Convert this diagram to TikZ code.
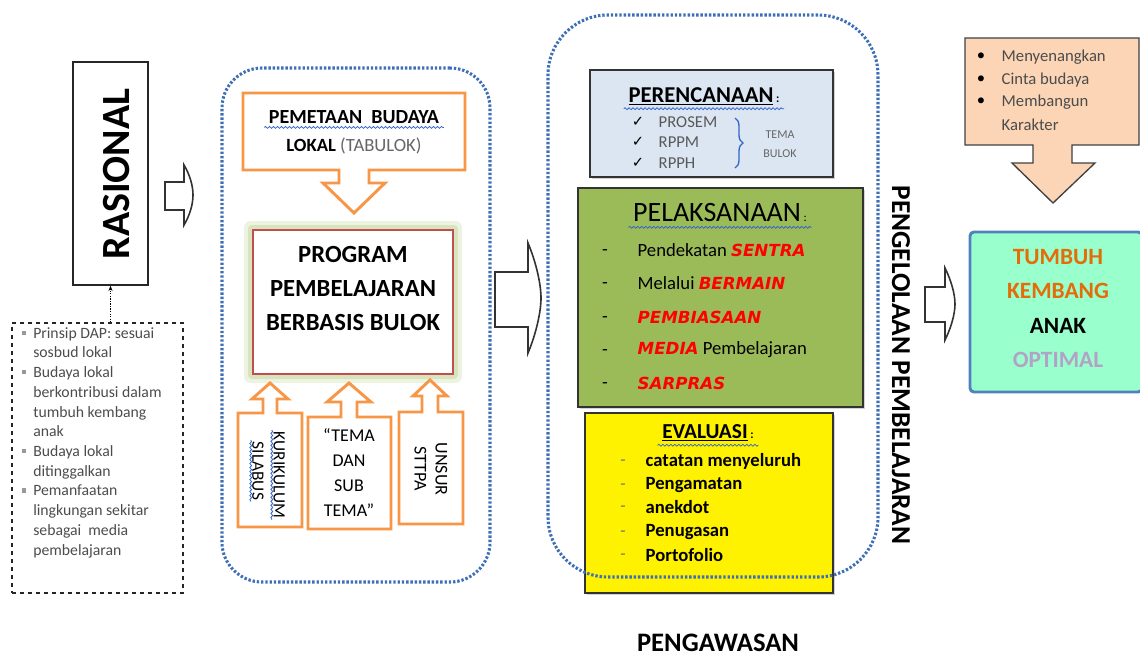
\documentclass[tikz,border=0pt]{standalone}
\usepackage{fontspec}
\setmainfont{Carlito}
\newfontfamily\symfont{DejaVu Sans}
\usetikzlibrary{fit,arrows.meta,shadows,decorations.pathmorphing,decorations.pathreplacing}

\definecolor{dotblue}{HTML}{3F6FB5}
\definecolor{boxorange}{HTML}{F79646}
\definecolor{progred}{HTML}{C0504D}
\definecolor{glowgreen}{HTML}{C3D69B}
\definecolor{planblue}{HTML}{DCE6F2}
\definecolor{pelgreen}{HTML}{9BBB59}
\definecolor{peach}{HTML}{FBD5B5}
\definecolor{mint}{HTML}{99FFCC}
\definecolor{resultblue}{HTML}{4F81BD}
\definecolor{tumbuhorange}{HTML}{E46C0A}
\definecolor{lavender}{HTML}{B3A2C7}
\definecolor{wordred}{HTML}{FF0000}
\definecolor{wavyblue}{HTML}{3366CC}

\newcommand{\sqb}{\makebox[8.25pt][l]{\color{black!40}\rule[0.22em]{0.26em}{0.26em}}}
\newcommand{\ind}{\hspace*{8.25pt}}
\newcommand{\redw}[1]{{\symfont\bfseries\itshape\fontsize{12.5}{12.5}\selectfont\color{wordred}#1}}

\tikzset{
  dotbox/.style={draw=dotblue, line width=2.3pt, dash pattern=on 1.8pt off 1.4pt, inner sep=0pt},
  orangebox/.style={draw=boxorange, line width=2.2pt, fill=white},
  hollowarrow/.style={draw=black!80, line width=1.2pt, fill=white},
  wavy/.style={draw=wavyblue, line width=0.6pt, decorate, decoration={snake, amplitude=0.7pt, segment length=3pt}},
  colbox/.style={draw=black!80, line width=1pt, inner sep=0pt, drop shadow={shadow xshift=1.2pt, shadow yshift=-1.2pt, opacity=0.35}},
}

\begin{document}
\begin{tikzpicture}[x=0.75pt, y=-0.75pt]
\useasboundingbox (0,0) rectangle (1140,657);

% rasional and its reasons
\node[draw=black!85, line width=1pt, fit={(73,62) (148,285)}, inner sep=0pt] (rasional) {};
\node[rotate=90, font=\bfseries\fontsize{30}{30}\selectfont] (rasionaltext) at (117,174) {RASIONAL};
\node[draw=black!85, line width=1pt, dashed, fit={(12,323) (183,593)}, inner sep=0pt] (dap) {};
\node[anchor=north west, inner sep=0pt, align=left, text=black!70, font=\fontsize{11.8}{14.8}\selectfont] (dapitems) at (22,327)
  {\sqb Prinsip DAP: sesuai\\ \ind sosbud lokal\\ \sqb Budaya lokal\\ \ind berkontribusi dalam\\ \ind tumbuh kembang\\ \ind anak\\
   \sqb Budaya lokal\\ \ind ditinggalkan\\ \sqb Pemanfaatan\\ \ind lingkungan sekitar\\ \ind sebagai\ \ media\\ \ind pembelajaran};
\draw[densely dotted, line width=0.9pt, -{Stealth[length=4pt]}] (dap.north -| rasional.south) -- (rasional.south);

% first block arrow
\draw[hollowarrow] (165,182) -- (184,182) -- (184,165) .. controls (190,175) and (193,186) .. (193,195) .. controls (193,204) and (190,215) .. (184,225) -- (184,210) -- (165,210) -- cycle;

% program group
\node[dotbox, rounded corners=30pt, fit={(222,68) (490,582)}] (bulok) {};
\draw[orangebox] (243,93) -- (465,93) -- (465,170) -- (369,170) -- (369,183) -- (385,183) -- (354,213) -- (323,183) -- (339,183) -- (339,170) -- (243,170) -- cycle;
\node[font=\bfseries\fontsize{15}{15}\selectfont] (pemetaan) at (354,117) {PEMETAAN\ \ BUDAYA};
\draw[wavy] ([yshift=-3pt]pemetaan.base west) -- ([yshift=-3pt]pemetaan.base east);
\node[font=\fontsize{14}{14}\selectfont] (lokal) at (354,146) {\textbf{LOKAL} {\color{black!60}(TABULOK)}};

\fill[glowgreen, opacity=0.3, rounded corners=5pt] (244,221) rectangle (462,383);
\fill[glowgreen, opacity=0.5, rounded corners=3pt] (248,225) rectangle (458,379);
\node[draw=progred, line width=2pt, fill=white, fit={(253,230) (453,374)}, inner sep=0pt] (program) {};
\node[align=center, font=\bfseries\fontsize{18.5}{25.5}\selectfont] (programtext) at (353,288) {PROGRAM\\PEMBELAJARAN\\BERBASIS BULOK};

\draw[orangebox] (238,413) -- (263,413) -- (263,399) -- (252,399) -- (270,383) -- (288,399) -- (277,399) -- (277,413) -- (302,413) -- (302,527) -- (238,527) -- cycle;
\draw[orangebox] (308,417) -- (341,417) -- (341,402) -- (327,402) -- (349,383) -- (371,402) -- (357,402) -- (357,417) -- (391,417) -- (391,529) -- (308,529) -- cycle;
\draw[orangebox] (399,412) -- (422,412) -- (422,396) -- (413,396) -- (430,380) -- (447,396) -- (438,396) -- (438,412) -- (463,412) -- (463,524) -- (399,524) -- cycle;
\node[rotate=-90, inner sep=1pt, font=\fontsize{13}{13}\selectfont] (kurikulum) at (279,475) {KURIKULUM};
\node[rotate=-90, inner sep=1pt, font=\fontsize{13}{13}\selectfont] (silabus) at (258,471) {SILABUS};
\draw[wavy] (kurikulum.south west) -- (kurikulum.south east);
\draw[wavy] (silabus.south west) -- (silabus.south east);
\node[align=center, font=\fontsize{13.5}{18.75}\selectfont] (tema) at (349,473) {``TEMA\\DAN\\SUB\\TEMA''};
\node[rotate=-90, align=center, inner sep=1pt, font=\fontsize{13.5}{15.75}\selectfont] (unsur) at (431,469) {UNSUR\\STTPA};

% second block arrow
\draw[hollowarrow] (495,272) -- (528,272) -- (528,243) .. controls (536,262) and (541,284) .. (541,298) .. controls (541,312) and (536,334) .. (528,353) -- (528,327) -- (495,327) -- cycle;

% perencanaan
\node[colbox, fill=planblue, fit={(590,70) (833,177)}] (perencanaan) {};
\node[font=\bfseries\fontsize{17}{17}\selectfont] (perencanaantitle) at (704,96) {\underline{PERENCANAAN}\fontsize{9}{9}\selectfont\ :};
\draw[wavy] ([yshift=-5pt]perencanaantitle.base west) -- ([yshift=-5pt]perencanaantitle.base east);
\node[font=\symfont\fontsize{11}{11}\selectfont] (check1) at (638,122) {✓};
\node[font=\symfont\fontsize{11}{11}\selectfont] (check2) at (638,142) {✓};
\node[font=\symfont\fontsize{11}{11}\selectfont] (check3) at (638,163) {✓};
\node[anchor=west, text=black!65, font=\fontsize{12.5}{12.5}\selectfont] (prosem) at (654,122) {PROSEM};
\node[anchor=west, text=black!65, font=\fontsize{12.5}{12.5}\selectfont] (rppm) at (654,142) {RPPM};
\node[anchor=west, text=black!65, font=\fontsize{12.5}{12.5}\selectfont] (rpph) at (654,163) {RPPH};
\draw[draw=wavyblue, line width=1pt, decorate, decoration={brace, amplitude=6pt}] (735,118) -- (735,168);
\node[align=center, text=black!60, font=\fontsize{9}{14}\selectfont] (temabulok) at (780,144) {TEMA\\BULOK};

% pelaksanaan
\node[colbox, fill=pelgreen, fit={(578,188) (863,407)}] (pelaksanaan) {};
\node[font=\fontsize{21}{21}\selectfont] (pelaksanaantitle) at (720,213) {PELAKSANAAN\fontsize{9}{9}\selectfont\ :};
\draw[wavy] ([yshift=-4pt]pelaksanaantitle.base west) -- ([yshift=-4pt]pelaksanaantitle.base east);
\node[font=\fontsize{14}{14}\selectfont] (dash1) at (605,253) {-};
\node[font=\fontsize{14}{14}\selectfont] (dash2) at (605,286) {-};
\node[font=\fontsize{14}{14}\selectfont] (dash3) at (605,320) {-};
\node[font=\fontsize{14}{14}\selectfont] (dash4) at (605,353) {-};
\node[font=\fontsize{14}{14}\selectfont] (dash5) at (605,386) {-};
\node[anchor=west, font=\fontsize{14}{14}\selectfont] (sentra) at (633,250) {Pendekatan \redw{SENTRA}};
\node[anchor=west, font=\fontsize{14}{14}\selectfont] (bermain) at (633,283) {Melalui \redw{BERMAIN}};
\node[anchor=west, font=\fontsize{14}{14}\selectfont] (pembiasaan) at (633,317) {\redw{PEMBIASAAN}};
\node[anchor=west, font=\fontsize{14}{14}\selectfont] (media) at (633,350) {\redw{MEDIA} Pembelajaran};
\node[anchor=west, font=\fontsize{14}{14}\selectfont] (sarpras) at (633,383) {\redw{SARPRAS}};

% evaluasi
\node[colbox, fill=yellow, fit={(585,413) (833,593)}] (evaluasi) {};
\node[font=\bfseries\fontsize{16}{16}\selectfont] (evaluasititle) at (708,433) {\underline{EVALUASI}\fontsize{9}{9}\selectfont\ :};
\draw[wavy] ([yshift=-5pt]evaluasititle.base west) -- ([yshift=-5pt]evaluasititle.base east);
\node[text=black!55, font=\fontsize{13}{13}\selectfont] (edash1) at (623,463) {-};
\node[text=black!55, font=\fontsize{13}{13}\selectfont] (edash2) at (623,487) {-};
\node[text=black!55, font=\fontsize{13}{13}\selectfont] (edash3) at (623,509) {-};
\node[text=black!55, font=\fontsize{13}{13}\selectfont] (edash4) at (623,534) {-};
\node[text=black!55, font=\fontsize{13}{13}\selectfont] (edash5) at (623,557) {-};
\node[anchor=west, font=\bfseries\fontsize{14}{14}\selectfont] (catatan) at (641,461) {catatan menyeluruh};
\node[anchor=west, font=\bfseries\fontsize{14}{14}\selectfont] (pengamatan) at (641,485) {Pengamatan};
\node[anchor=west, font=\bfseries\fontsize{14}{14}\selectfont] (anekdot) at (641,507) {anekdot};
\node[anchor=west, font=\bfseries\fontsize{14}{14}\selectfont] (penugasan) at (641,532) {Penugasan};
\node[anchor=west, font=\bfseries\fontsize{14}{14}\selectfont] (portofolio) at (641,555) {Portofolio};

% pengelolaan group
\node[dotbox, rounded corners=45pt, fit={(548,15) (878,577)}] (pengelolaan) {};
\node[rotate=-90, font=\bfseries\fontsize{20.5}{20.5}\selectfont] (pengelolaantext) at (901,365) {PENGELOLAAN PEMBELAJARAN};

% third block arrow
\draw[hollowarrow] (925,287) -- (945,287) -- (945,268) .. controls (951,280) and (955,294) .. (955,304) .. controls (955,314) and (951,328) .. (945,340) -- (945,322) -- (925,322) -- cycle;

% nilai
\draw[draw=black!75, line width=1pt, fill=peach] (965,38) -- (1139,38) -- (1139,145) -- (1072,145) -- (1072,163) -- (1095,163) -- (1053,203) -- (1012,163) -- (1033,163) -- (1033,145) -- (965,145) -- cycle;
\node[font=\fontsize{12.5}{12.5}\selectfont] (bullet1) at (981,57) {•};
\node[font=\fontsize{12.5}{12.5}\selectfont] (bullet2) at (981,80) {•};
\node[font=\fontsize{12.5}{12.5}\selectfont] (bullet3) at (981,102) {•};
\node[anchor=west, text=black!70, font=\fontsize{12.5}{12.5}\selectfont] (menyenangkan) at (997,57) {Menyenangkan};
\node[anchor=west, text=black!70, font=\fontsize{12.5}{12.5}\selectfont] (cinta) at (997,80) {Cinta budaya};
\node[anchor=west, text=black!70, font=\fontsize{12.5}{12.5}\selectfont] (membangun) at (997,102) {Membangun};
\node[anchor=west, text=black!70, font=\fontsize{12.5}{12.5}\selectfont] (karakter) at (997,125) {Karakter};

% hasil
\node[draw=resultblue, line width=2.2pt, fill=mint, rounded corners=3pt, fit={(970,232) (1142,392)}, inner sep=0pt] (hasil) {};
\node[text=tumbuhorange, font=\bfseries\fontsize{17.5}{17.5}\selectfont] (tumbuh) at (1058,257) {TUMBUH};
\node[text=tumbuhorange, font=\bfseries\fontsize{17.5}{17.5}\selectfont] (kembang) at (1058,291) {KEMBANG};
\node[text=black, font=\bfseries\fontsize{17.5}{17.5}\selectfont] (anak) at (1058,326) {ANAK};
\node[text=lavender, font=\bfseries\fontsize{17.5}{17.5}\selectfont] (optimal) at (1058,360) {OPTIMAL};

\node[font=\bfseries\fontsize{20}{20}\selectfont] (pengawasan) at (718,643) {PENGAWASAN};
\end{tikzpicture}
\end{document}
